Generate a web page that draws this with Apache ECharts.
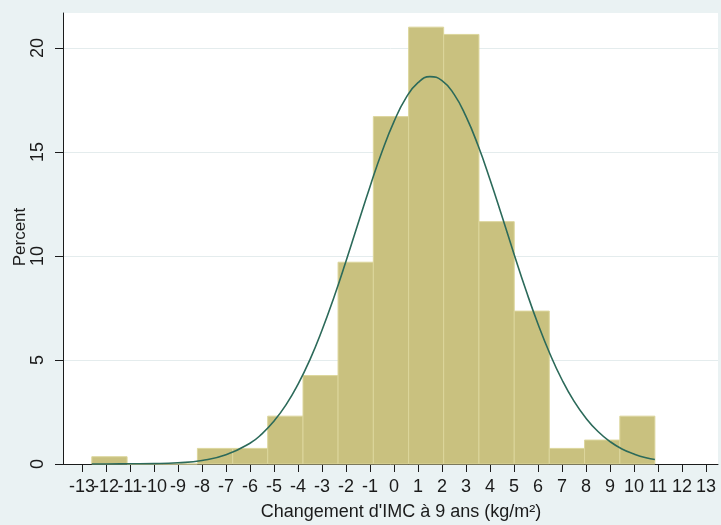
<!DOCTYPE html>
<html>
<head>
<meta charset="utf-8">
<script src="https://cdn.jsdelivr.net/npm/echarts@6/dist/echarts.min.js"></script>
<style>
  html, body { margin: 0; padding: 0; background: #eaf2f3; }
  #chart { width: 721px; height: 525px; }
</style>
</head>
<body>
<div id="chart"></div>
<script>
// Histogram bins (kg/m²) and their share of the sample (%)
const binEdges = [-12.59, -11.12, -9.66, -8.19, -6.72, -5.26, -3.79, -2.33, -0.86,
                  0.61, 2.07, 3.54, 5.01, 6.47, 7.94, 9.41, 10.87];
const percents = [0.35, 0, 0, 0.75, 0.75, 2.3, 4.25, 9.7, 16.7,
                  21.0, 20.65, 11.65, 7.35, 0.75, 1.15, 2.3];

// Overlaid normal density, in percent per bin
const curveX = [-12.59, -12, -11, -10, -9, -8, -7, -6, -5.5, -5, -4.5, -4, -3.5, -3, -2.5, -2,
                -1.5, -1, -0.5, 0, 0.5, 1, 1.5, 2, 2.5, 3, 3.5, 4, 4.5, 5, 5.5, 6, 6.5,
                7, 7.5, 8, 8.5, 9, 9.5, 10, 10.5, 10.87];
const curveY = [0.00, 0.00, 0.01, 0.02, 0.06, 0.17, 0.44, 1.00, 1.45, 2.06, 2.84, 3.83, 5.02, 6.43, 8.02, 9.75,
                11.55, 13.33, 15.01, 16.46, 17.60, 18.33, 18.62, 18.43, 17.78, 16.71, 15.32, 13.68, 11.91, 10.10, 8.35, 6.73, 5.29,
                4.05, 3.02, 2.20, 1.56, 1.08, 0.72, 0.48, 0.30, 0.22];

// Axis tick labels
const xTicks = [-13, -12, -11, -10, -9, -8, -7, -6, -5, -4, -3, -2, -1, 0,
                1, 2, 3, 4, 5, 6, 7, 8, 9, 10, 11, 12, 13];
const yTicks = [0, 5, 10, 15, 20];

const xTitle = "Changement d'IMC à 9 ans (kg/m²)";
const yTitle = 'Percent';

const X_MIN = -13.79, X_MAX = 13.5, Y_MAX = 21.68;

const FONT = '"Liberation Sans", Arial, sans-serif';
const INK = '#1b1b1b';

const chart = echarts.init(document.getElementById('chart'), null, { renderer: 'canvas' });

const barData = percents.map((p, i) => [binEdges[i], binEdges[i + 1], p]);
const lineData = curveX.map((x, i) => [x, curveY[i]]);
// A blank label sits at the axis start so the crowded "-13" / "-12" pair both stay visible
const xLabelValues = [X_MIN].concat(xTicks);

chart.setOption({
  backgroundColor: '#eaf2f3',
  animation: false,
  grid: {
    left: 63, right: 3, top: 13, bottom: 61,
    show: true, backgroundColor: '#ffffff', borderWidth: 0
  },
  xAxis: {
    type: 'value',
    min: X_MIN, max: X_MAX,
    axisLine: { show: true, onZero: false, lineStyle: { color: INK, width: 1 } },
    axisTick: { show: true, customValues: xTicks, length: 8, lineStyle: { color: INK, width: 1 } },
    axisLabel: {
      customValues: xLabelValues, interval: 0, margin: 14,
      showMinLabel: true, showMaxLabel: true, hideOverlap: false,
      formatter: function (v) { return Number.isInteger(v) ? String(v) : ''; },
      fontFamily: FONT, fontSize: 18, color: INK
    },
    splitLine: { show: false }
  },
  yAxis: {
    type: 'value',
    min: 0, max: Y_MAX, interval: 5,
    axisLine: { show: true, onZero: false, lineStyle: { color: INK, width: 1 } },
    axisTick: { show: true, customValues: yTicks, length: 8, lineStyle: { color: INK, width: 1 } },
    axisLabel: {
      customValues: yTicks, rotate: 90, margin: 16,
      fontFamily: FONT, fontSize: 18, color: INK
    },
    splitLine: { show: true, lineStyle: { color: '#e4eced', width: 1 } }
  },
  series: [
    {
      type: 'custom',
      name: 'histogram',
      data: barData,
      encode: { x: [0, 1], y: 2 },
      renderItem: function (params, api) {
        const top = api.coord([api.value(0), api.value(2)]);
        const bottom = api.coord([api.value(1), 0]);
        return {
          type: 'rect',
          shape: { x: top[0], y: top[1], width: bottom[0] - top[0], height: bottom[1] - top[1] },
          style: { fill: '#c9c17f', stroke: '#dcd69c', lineWidth: 1 }
        };
      },
      z: 2
    },
    {
      type: 'line',
      name: 'normal',
      data: lineData,
      smooth: true,
      showSymbol: false,
      lineStyle: { color: '#2c6a5a', width: 1.6 },
      z: 3
    }
  ],
  graphic: [
    {
      type: 'text', x: 401, y: 512,
      style: { text: xTitle, font: '18px ' + FONT, fill: INK, align: 'center', verticalAlign: 'middle' }
    },
    {
      type: 'text', x: 20, y: 237, rotation: Math.PI / 2,
      style: { text: yTitle, font: '17px ' + FONT, fill: INK, align: 'center', verticalAlign: 'middle' }
    }
  ]
});
</script>
</body>
</html>
